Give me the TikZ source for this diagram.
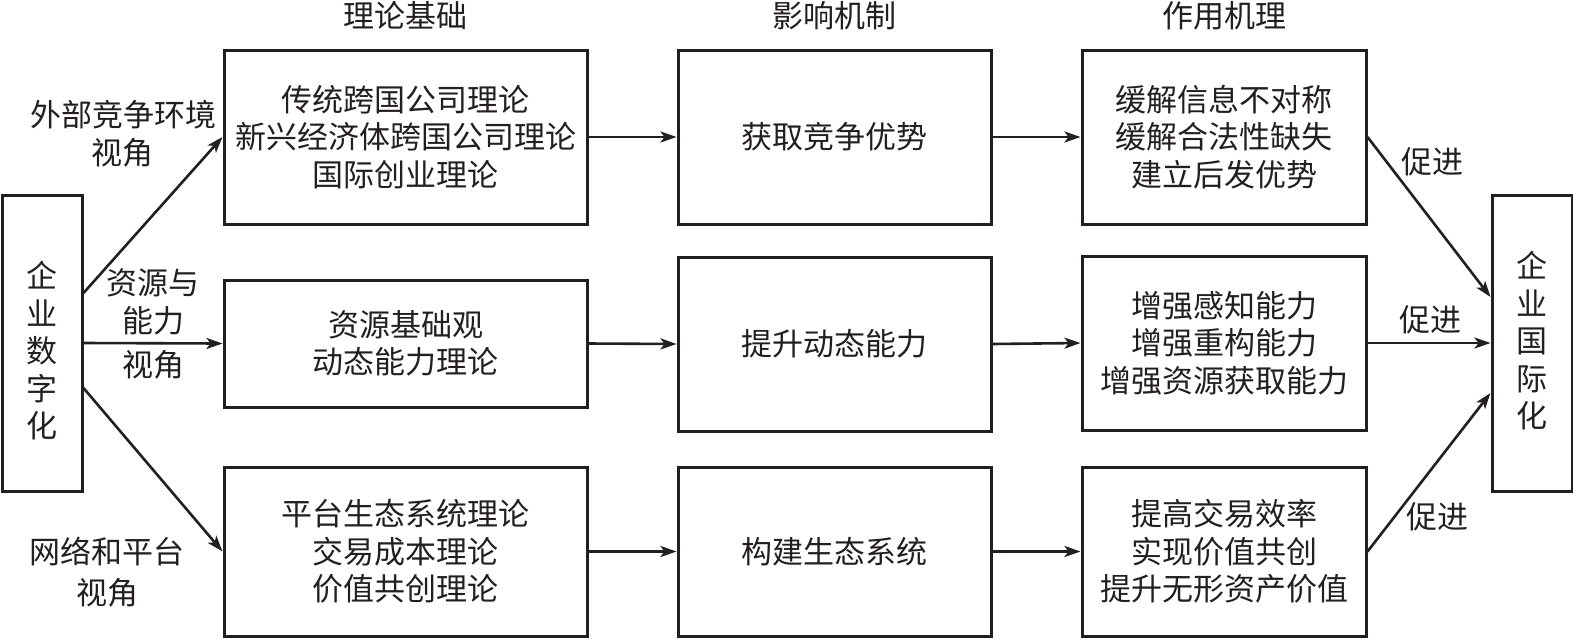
\documentclass[tikz,border=0pt]{standalone}
\usepackage{fontspec}
\setmainfont{Noto Sans CJK SC}
\usetikzlibrary{arrows.meta,calc}
\definecolor{ink}{RGB}{35,31,32}
\begin{document}
\begin{tikzpicture}[x=1pt,y=-1pt,
  box/.style={draw=ink,line width=3pt,inner sep=0pt,align=center,text=ink},
  txt/.style={inner sep=0pt,align=center,text=ink},
  arr/.style={draw=ink,line width=2.6pt,-{Stealth[length=16pt,width=11pt,inset=4pt]}},
  every node/.append style={font=\fontsize{31}{37.5}\selectfont}]
\useasboundingbox (0,0) rectangle (1573,638);
% side boxes
\node[box,minimum width=80pt,minimum height=296pt] (L) at (42,343) {};
\node[txt] (Ltxt) at (42,351) {企\\业\\数\\字\\化};
\node[box,minimum width=80pt,minimum height=296pt] (R) at (1532,343) {};
\node[txt] (Rtxt) at (1532,341) {企\\业\\国\\际\\化};
% titles
\node[txt] (t1) at (405.5,16) {理论基础};
\node[txt] (t2) at (834.5,16) {影响机制};
\node[txt] (t3) at (1224,16) {作用机理};
% column 1
\node[box,minimum width=363pt,minimum height=174pt] (c1t) at (405.5,137) {传统跨国公司理论\\新兴经济体跨国公司理论\\国际创业理论};
\node[box,minimum width=363pt,minimum height=127pt] (c1m) at (405.5,343.5) {资源基础观\\动态能力理论};
\node[box,minimum width=363pt,minimum height=169pt] (c1b) at (405.5,551.5) {平台生态系统理论\\交易成本理论\\价值共创理论};
% column 2
\node[box,minimum width=313pt,minimum height=174pt] (c2t) at (834.5,137) {获取竞争优势};
\node[box,minimum width=313pt,minimum height=174pt] (c2m) at (834.5,344) {提升动态能力};
\node[box,minimum width=313pt,minimum height=169pt] (c2b) at (834.5,551.5) {构建生态系统};
% column 3
\node[box,minimum width=284pt,minimum height=174pt] (c3t) at (1224,137) {缓解信息不对称\\缓解合法性缺失\\建立后发优势};
\node[box,minimum width=284pt,minimum height=174pt] (c3m) at (1224,343) {增强感知能力\\增强重构能力\\增强资源获取能力};
\node[box,minimum width=284pt,minimum height=169pt] (c3b) at (1224,551.5) {提高交易效率\\实现价值共创\\提升无形资产价值};
% left labels
\node[txt] (lab1) at (123,133.5) {外部竞争环境\\视角};
\node[txt] (lab2) at (153,324) {资源与\\能力\\[7pt]视角};
\node[txt] (lab3) at (107,572) {网络和平台\\[4pt]视角};
% right labels
\node[txt] (p1) at (1432,162) {促进};
\node[txt] (p2) at (1430,320) {促进};
\node[txt] (p3) at (1437,517) {促进};
% arrows
\coordinate (Ls1) at ($(L.east)+(0,-50)$);
\coordinate (Ls3) at ($(L.east)+(0,45)$);
\draw[arr] (Ls1) -- (c1t.west);
\draw[arr] (L.east) -- (c1m.west);
\draw[arr] (Ls3) -- (c1b.west);
\draw[arr] (c1t.east) -- (c2t.west);
\draw[arr] (c1m.east) -- (c2m.west);
\draw[arr] (c1b.east) -- (c2b.west);
\draw[arr] (c2t.east) -- (c3t.west);
\draw[arr] (c2m.east) -- (c3m.west);
\draw[arr] (c2b.east) -- (c3b.west);
\coordinate (Re1) at ($(R.west)+(0,-46)$);
\coordinate (Re3) at ($(R.west)+(0,50)$);
\draw[arr] (c3t.east) -- (Re1);
\draw[arr] (c3m.east) -- (R.west);
\draw[arr] (c3b.east) -- (Re3);
\end{tikzpicture}
\end{document}
